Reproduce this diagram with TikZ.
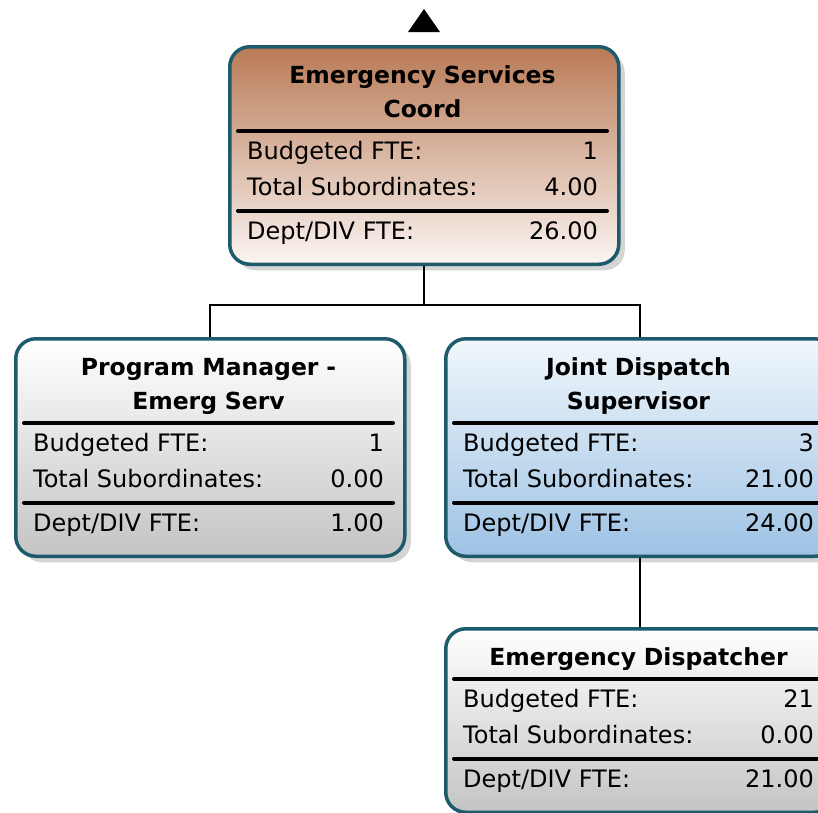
\documentclass[tikz,border=0pt]{standalone}
\usepackage{fontspec}
\setmainfont{DejaVu Sans}
\usetikzlibrary{positioning, calc, shadows}
\definecolor{boxline}{HTML}{1D5A6B}
\definecolor{coordtop}{HTML}{B97A56}
\definecolor{coordbot}{HTML}{FBF5F2}
\definecolor{bluetop}{HTML}{F1F7FC}
\definecolor{bluebot}{HTML}{9DC2E4}
\definecolor{greytop}{HTML}{FFFFFF}
\definecolor{greybot}{HTML}{C4C4C4}
\tikzset{
    org box/.style={rectangle, rounded corners=20pt, draw=boxline, line width=3.5pt, minimum width=389pt, anchor=north west, inner sep=0pt,
        drop shadow={shadow xshift=6pt, shadow yshift=-6pt, fill=black!17, opacity=1}},
    brown box/.style={top color=coordtop, bottom color=coordbot},
    blue box/.style={top color=bluetop, bottom color=bluebot},
    grey box/.style={top color=greytop, bottom color=greybot},
    heading/.style={font=\fontsize{23.5}{34}\selectfont\bfseries, text width=370pt, align=center, inner sep=0pt, anchor=base},
    field/.style={font=\fontsize{24}{28}\selectfont, inner sep=0pt},
    rule line/.style={line width=4pt, line cap=round},
    link/.style={line width=2pt},
}
\newcommand{\orgbox}[9]{
    \begin{scope}[shift={(#2,#3)}]
        \node[org box, #5, minimum height=183.5pt+#4pt] (#1) at (0,0) {};
        \node[heading] (#1-title) at (194.5,38.5) {#6};
        \draw[rule line] (10,52+#4) -- (379,52+#4);
        \node[field, anchor=base west] (#1-budget) at (19,80+#4) {Budgeted FTE:};
        \node[field, anchor=base east] (#1-budget-v) at (370,80+#4) {#7};
        \node[field, anchor=base west] (#1-subs) at (19,116+#4) {Total Subordinates:};
        \node[field, anchor=base east] (#1-subs-v) at (370,116+#4) {#8};
        \draw[rule line] (10,131.5+#4) -- (379,131.5+#4);
        \node[field, anchor=base west] (#1-dept) at (19,160.5+#4) {Dept/DIV FTE:};
        \node[field, anchor=base east] (#1-dept-v) at (370,160.5+#4) {#9};
    \end{scope}
}

\begin{document}
\begin{tikzpicture}[x=1pt, y=-1pt]
    \useasboundingbox (0,0) rectangle (818,812);
    \clip (0,0) rectangle (818,812);
    \fill (424,9) -- (440,32) -- (408,32) -- cycle;
    \orgbox{coord}{228}{45}{34}{brown box}{Emergency Services\\Coord}{1}{4.00}{26.00}
    \orgbox{pm}{14}{337}{34}{grey box}{Program Manager -\\Emerg Serv}{1}{0.00}{1.00}
    \orgbox{jd}{444}{337}{34}{blue box}{Joint Dispatch\\Supervisor}{3}{21.00}{24.00}
    \orgbox{disp}{444}{627}{0}{grey box}{Emergency Dispatcher}{21}{0.00}{21.00}
    \draw[link] (coord.south) -- ++(0,39) -| (pm.north);
    \draw[link] (coord.south) -- ++(0,39) -| (jd.north);
    \draw[link] (jd.south) -- (disp.north);
\end{tikzpicture}
\end{document}
